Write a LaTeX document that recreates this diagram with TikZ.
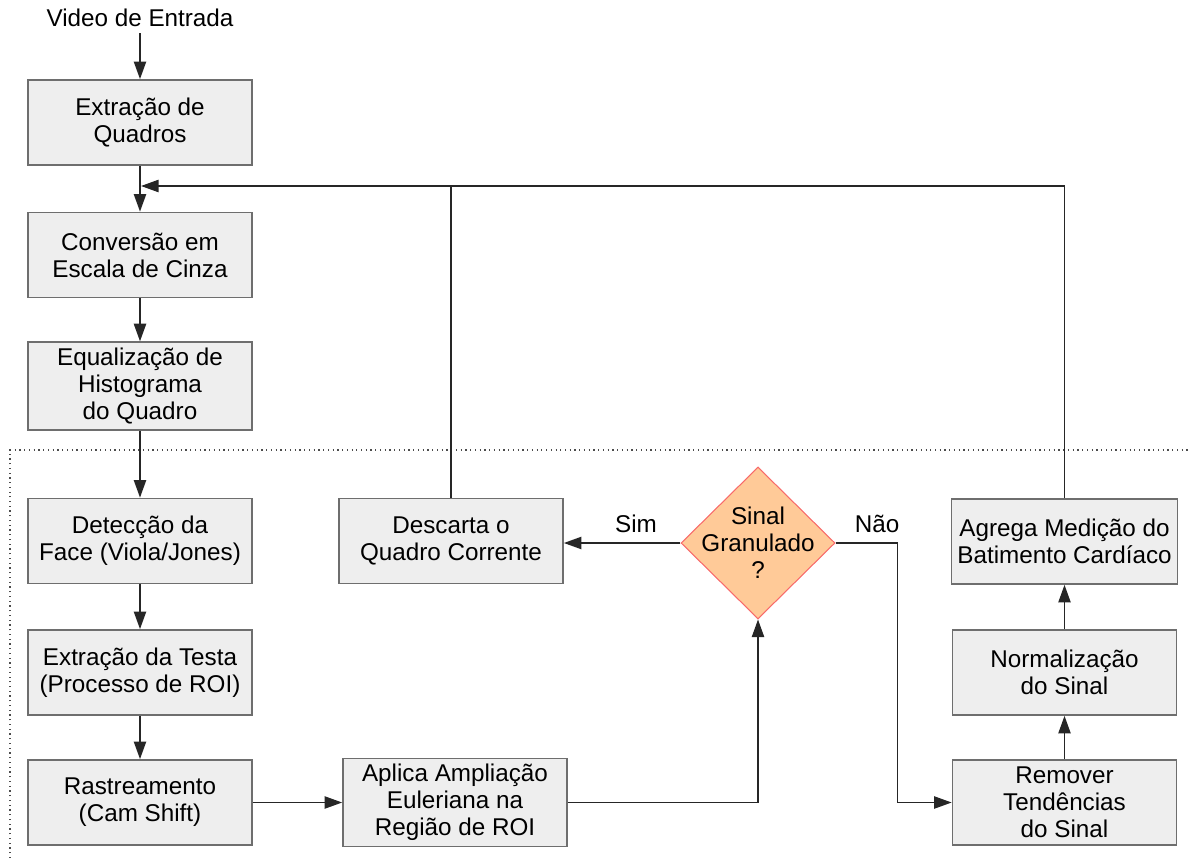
\documentclass[tikz,border=0pt]{standalone}
\usepackage{fontspec}
\setmainfont{Liberation Sans}
\usetikzlibrary{arrows.meta,shapes.geometric}
\definecolor{boxgray}{HTML}{EEEEEE}
\definecolor{boxedge}{HTML}{6E6E6E}
\definecolor{decfill}{HTML}{FFCA98}
\definecolor{decedge}{HTML}{F86A6A}
\tikzset{
	procbox/.style={draw=boxedge, fill=boxgray, line width=1pt, minimum width=4.48cm, minimum height=1.7cm, align=center},
	decision/.style={diamond, draw=decedge, fill=decfill, line width=0.6pt, minimum width=3.08cm, minimum height=3.04cm, inner sep=-0.2cm, align=center},
	flow/.style={draw=black!85, line width=0.8pt, -{Triangle[length=10pt,width=7pt]}},
	link/.style={draw=black!85, line width=0.8pt},
}

\begin{document}
\begin{tikzpicture}[x=0.02cm, y=-0.02cm, font=\fontsize{13.8}{15.3}\selectfont]
	\useasboundingbox (0,0) rectangle (1190,858);
	\draw[dotted, black!70, line width=0.7pt] (10,858) -- (10,450) -- (1190,450);

	\node (video) at (140,18) {Video de Entrada};
	\node[procbox] (quadros) at (140,122.5) {Extração de\\Quadros};
	\node[procbox] (cinza) at (140,255) {Conversão em\\Escala de Cinza};
	\node[procbox] (histo) at (140,386) {Equalização de\\Histograma\\do Quadro};
	\node[procbox] (face) at (140,541) {Detecção da\\Face (Viola/Jones)};
	\node[procbox] (testa) at (140,672.5) {Extração da Testa\\(Processo de ROI)};
	\node[procbox] (rastreio) at (140,802.5) {Rastreamento\\(Cam Shift)};
	\node[procbox] (aplica) at (455,802.5) {Aplica Ampliação\\Euleriana na\\Região de ROI};
	\node[procbox] (descarta) at (451,541) {Descarta o\\Quadro Corrente};
	\node[decision] (dec) at (758,543) {Sinal\\Granulado\\?};
	\node[procbox] (agrega) at (1064.5,541.5) {Agrega Medição do\\Batimento Cardíaco};
	\node[procbox] (normal) at (1064.5,672.5) {Normalização\\do Sinal};
	\node[procbox] (remover) at (1064.5,802.5) {Remover\\Tendências\\do Sinal};
	\node (sim) at (636,524) {Sim};
	\node (nao) at (877,524) {Não};
	\coordinate (merge) at (141,186);

	\draw[flow] (video) -- (quadros);
	\draw[flow] (quadros) -- (cinza);
	\draw[flow] (cinza) -- (histo);
	\draw[flow] (histo) -- (face);
	\draw[flow] (face) -- (testa);
	\draw[flow] (testa) -- (rastreio);
	\draw[flow] (rastreio) -- (aplica);
	\draw[flow] (aplica.east) -| (dec.south);
	\draw[flow] (dec.west) -- (dec.west -| descarta.east);
	\draw[flow] (dec.east) -- ++(62,0) |- (remover.west);
	\draw[flow] (remover) -- (normal);
	\draw[flow] (normal) -- (agrega);
	\draw[flow] (agrega.north) |- (merge);
	\draw[link] (descarta.north) -- (descarta.north |- merge);
\end{tikzpicture}
\end{document}
